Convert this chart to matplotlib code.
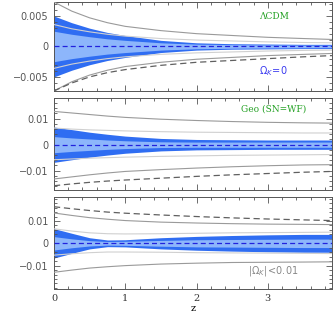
import numpy as np
import matplotlib
matplotlib.use("Agg")
import matplotlib.pyplot as plt
from matplotlib.ticker import MultipleLocator, FixedLocator

z = [0, 0.25, 0.5, 0.75, 1, 1.5, 2, 2.5, 3, 3.5, 3.9]

# Panel 1 (LCDM), units 1e-3
p1_outer_top = [7.3, 5.8, 4.7, 3.9, 3.3, 2.6, 2.1, 1.8, 1.5, 1.3, 1.15]
p1_outer_bot = [-7.3, -5.8, -4.7, -3.9, -3.3, -2.6, -2.1, -1.8, -1.5, -1.3, -1.15]
p1_inner_top = [3.6, 2.9, 2.4, 2.0, 1.7, 1.3, 1.05, 0.9, 0.75, 0.65, 0.6]
p1_inner_bot = [-3.6, -2.9, -2.4, -2.0, -1.7, -1.3, -1.05, -0.9, -0.75, -0.65, -0.6]
p1_dashed = [-7.3, -6.0, -5.0, -4.3, -3.8, -3.1, -2.6, -2.3, -2.0, -1.7, -1.5]
p1_dark = [5.0, 3.9, 3.0, 2.3, 1.8, 1.0, 0.6, 0.45, 0.4, 0.35, 0.35]
p1_light = [2.5, 2.0, 1.6, 1.25, 1.0, 0.6, 0.38, 0.3, 0.25, 0.22, 0.2]

# Panel 2 (Geo SN=WF), units 1e-2
p2_outer_top = [1.28, 1.22, 1.16, 1.10, 1.05, 0.98, 0.93, 0.89, 0.86, 0.84, 0.83]
p2_inner_top = [0.64, 0.60, 0.57, 0.55, 0.53, 0.50, 0.48, 0.47, 0.46, 0.45, 0.45]
p2_inner_bot = [-0.58, -0.55, -0.52, -0.50, -0.48, -0.45, -0.43, -0.41, -0.40, -0.39, -0.38]
p2_outer_bot = [-1.32, -1.24, -1.16, -1.09, -1.03, -0.96, -0.90, -0.85, -0.81, -0.78, -0.77]
p2_dashed = [-1.58, -1.51, -1.45, -1.40, -1.36, -1.29, -1.22, -1.16, -1.11, -1.06, -1.03]
p2_dark = [0.68, 0.58, 0.48, 0.40, 0.33, 0.24, 0.20, 0.19, 0.18, 0.18, 0.18]
p2_light = [0.31, 0.26, 0.22, 0.18, 0.15, 0.11, 0.10, 0.10, 0.10, 0.10, 0.10]

# Panel 3 (|Omega_K|<0.01), units 1e-2
p3_dashed = [1.64, 1.55, 1.47, 1.40, 1.35, 1.27, 1.20, 1.14, 1.09, 1.05, 1.02]
p3_outer_top = [1.36, 1.25, 1.15, 1.08, 1.02, 0.95, 0.91, 0.88, 0.86, 0.85, 0.84]
p3_inner_top = [0.65, 0.55, 0.47, 0.43, 0.42, 0.43, 0.45, 0.47, 0.48, 0.49, 0.50]
p3_inner_bot = [-0.53, -0.47, -0.42, -0.39, -0.39, -0.40, -0.42, -0.43, -0.44, -0.45, -0.46]
p3_outer_bot = [-1.30, -1.20, -1.11, -1.05, -1.00, -0.93, -0.89, -0.86, -0.85, -0.84, -0.83]
p3_dark = [0.66, 0.45, 0.25, 0.15, 0.16, 0.25, 0.31, 0.35, 0.38, 0.40, 0.40]
p3_light = [0.30, 0.20, 0.12, 0.08, 0.09, 0.13, 0.16, 0.17, 0.18, 0.19, 0.19]

DARK = "#2f6df2"
LIGHT = "#8db6fb"
OUTER = "#9a9a9a"
INNER = "#d0d0d0"
DASH = "#606060"
ZERO = "#2222dd"
SPINE = "#555555"

fig = plt.figure(figsize=(3.33, 3.33), dpi=100)
L, W = 0.162, 0.835
boxes = [(0.727, 0.994), (0.429, 0.706), (0.132, 0.408)]
axes = [fig.add_axes([L, b, W, t - b]) for b, t in boxes]

za = np.array(z)

def draw(ax, scale, dark, light, lines):
    dark = np.array(dark) * scale
    light = np.array(light) * scale
    ax.fill_between(za, -dark, dark, color=DARK, lw=0, zorder=1)
    ax.fill_between(za, -light, light, color=LIGHT, lw=0, zorder=2)
    for vals, col, ls, lw in lines:
        ax.plot(za, np.array(vals) * scale, color=col, ls=ls, lw=lw, zorder=3)
    ax.plot([0, 3.9], [0, 0], color=ZERO, ls=(0, (4, 2.5)), lw=0.9, zorder=4)

draw(axes[0], 1e-3, p1_dark, p1_light, [
    (p1_outer_top, OUTER, "-", 0.8), (p1_outer_bot, OUTER, "-", 0.8),
    (p1_inner_top, INNER, "-", 0.8), (p1_inner_bot, INNER, "-", 0.8),
    (p1_dashed, DASH, (0, (5, 3)), 0.9)])
draw(axes[1], 1e-2, p2_dark, p2_light, [
    (p2_outer_top, OUTER, "-", 0.8), (p2_outer_bot, OUTER, "-", 0.8),
    (p2_inner_top, INNER, "-", 0.8), (p2_inner_bot, INNER, "-", 0.8),
    (p2_dashed, DASH, (0, (5, 3)), 0.9)])
draw(axes[2], 1e-2, p3_dark, p3_light, [
    (p3_outer_top, OUTER, "-", 0.8), (p3_outer_bot, OUTER, "-", 0.8),
    (p3_inner_top, INNER, "-", 0.8), (p3_inner_bot, INNER, "-", 0.8),
    (p3_dashed, DASH, (0, (5, 3)), 0.9)])

ylims = [(-0.0073, 0.0073), (-0.0175, 0.018), (-0.0205, 0.0207)]
yticks = [[-0.005, 0, 0.005], [-0.01, 0, 0.01], [-0.01, 0, 0.01]]
ylabels = [["\u22120.005", "0", "0.005"], ["\u22120.01", "0", "0.01"], ["\u22120.01", "0", "0.01"]]
yminor = [0.001, 0.002, 0.002]

for i, ax in enumerate(axes):
    ax.set_xlim(0, 3.9)
    ax.set_ylim(*ylims[i])
    ax.set_yticks(yticks[i])
    ax.set_yticklabels(ylabels[i], family="DejaVu Sans", fontsize=7, color="#333333")
    ax.yaxis.set_minor_locator(MultipleLocator(yminor[i]))
    ax.set_xticks([0, 1, 2, 3])
    ax.xaxis.set_minor_locator(MultipleLocator(0.2))
    ax.tick_params(which="both", direction="in", top=True, right=True, colors=SPINE, width=0.6)
    ax.tick_params(which="major", length=4)
    ax.tick_params(which="minor", length=2)
    ax.tick_params(axis="y", pad=4)
    for s in ax.spines.values():
        s.set_color(SPINE)
        s.set_linewidth(0.7)
    if i < 2:
        ax.set_xticklabels([])
    else:
        ax.set_xticklabels(["0", "1", "2", "3"], family="DejaVu Serif", fontsize=7, color="#333333")

axes[2].set_xlabel("z", family="DejaVu Serif", fontsize=7, labelpad=1)

axes[0].text(0.79, 0.84, "\u039bCDM", transform=axes[0].transAxes, color="#22a022",
             fontsize=6.5, family="DejaVu Serif", ha="center", va="center")
axes[0].text(0.79, 0.22, r"$\Omega_K\!=\!0$", transform=axes[0].transAxes, color="#3a3af0",
             fontsize=7, ha="center", va="center")
axes[1].text(0.79, 0.88, "Geo (SN=WF)", transform=axes[1].transAxes, color="#22a022",
             fontsize=6.5, family="DejaVu Serif", ha="center", va="center")
axes[2].text(0.79, 0.2, r"$|\Omega_K|\!<\!0.01$", transform=axes[2].transAxes, color="#888888",
             fontsize=7, ha="center", va="center")

fig.savefig("out.png", dpi=100)
